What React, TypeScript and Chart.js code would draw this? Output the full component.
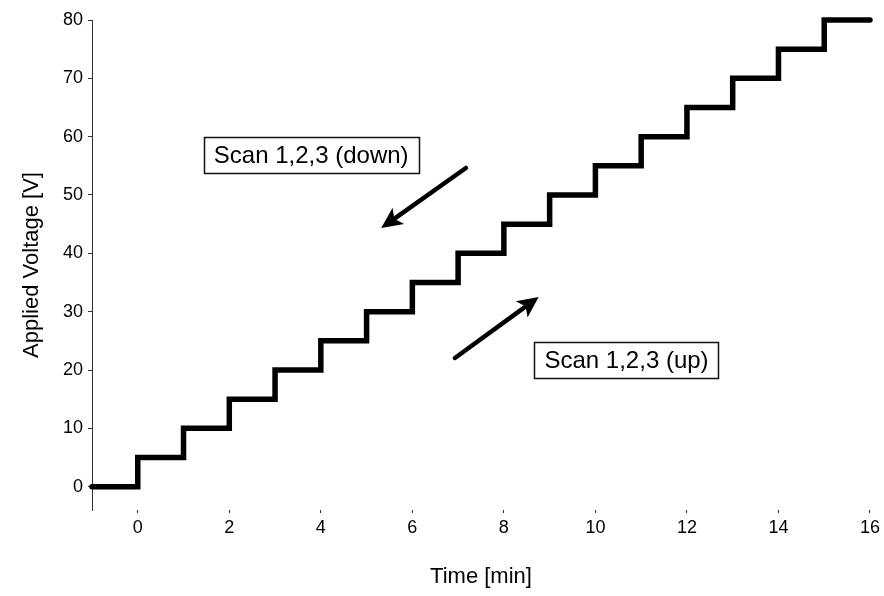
import React, { useEffect, useRef } from "react";
import { Chart, registerables } from "chart.js";

Chart.register(...registerables);

// ---- data ----
const timeMin: number[] = [-1, 0, 1, 2, 3, 4, 5, 6, 7, 8, 9, 10, 11, 12, 13, 14, 15, 16];
const appliedVoltage: number[] = [0, 5, 10, 15, 20, 25, 30, 35, 40, 45, 50, 55, 60, 65, 70, 75, 80, 80];
const xTickValues: number[] = [0, 2, 4, 6, 8, 10, 12, 14, 16];
const yTickValues: number[] = [0, 10, 20, 30, 40, 50, 60, 70, 80];

const labelTexts: string[] = ["Scan 1,2,3 (down)", "Scan 1,2,3 (up)"];

// annotation placement (data coordinates)
const labelAnchors = [
  { x: 3.79, y: 56.86 },
  { x: 10.68, y: 21.71 },
];
const arrowDefs = [
  { x0: 7.17, y0: 54.63, x1: 5.32, y1: 44.34 },
  { x0: 6.93, y0: 22.06, x1: 8.76, y1: 32.52 },
];

const FONT = '"Liberation Sans", Arial, Helvetica, sans-serif';

const annotationPlugin = {
  id: "scanAnnotations",
  afterDatasetsDraw(chart: any) {
    const { ctx, scales } = chart;
    const xs = scales.x;
    const ys = scales.y;
    ctx.save();
    // arrows
    arrowDefs.forEach((a) => {
      const px0 = xs.getPixelForValue(a.x0);
      const py0 = ys.getPixelForValue(a.y0);
      const px1 = xs.getPixelForValue(a.x1);
      const py1 = ys.getPixelForValue(a.y1);
      const ang = Math.atan2(py1 - py0, px1 - px0);
      const headLen = 21;
      const headHalf = 10;
      const bx = px1 - headLen * Math.cos(ang);
      const by = py1 - headLen * Math.sin(ang);
      ctx.strokeStyle = "#000";
      ctx.lineWidth = 4.5;
      ctx.lineCap = "round";
      ctx.beginPath();
      ctx.moveTo(px0, py0);
      ctx.lineTo(bx + 3 * Math.cos(ang), by + 3 * Math.sin(ang));
      ctx.stroke();
      ctx.fillStyle = "#000";
      ctx.beginPath();
      ctx.moveTo(px1, py1);
      ctx.lineTo(bx + headHalf * Math.sin(ang), by - headHalf * Math.cos(ang));
      ctx.lineTo(bx + 5 * Math.cos(ang), by + 5 * Math.sin(ang));
      ctx.lineTo(bx - headHalf * Math.sin(ang), by + headHalf * Math.cos(ang));
      ctx.closePath();
      ctx.fill();
    });
    // labels
    ctx.font = `24px ${FONT}`;
    ctx.textAlign = "center";
    ctx.textBaseline = "middle";
    labelTexts.forEach((t, i) => {
      const cx = xs.getPixelForValue(labelAnchors[i].x);
      const cy = ys.getPixelForValue(labelAnchors[i].y);
      const w = ctx.measureText(t).width + 20;
      const h = 36;
      ctx.fillStyle = "#fff";
      ctx.fillRect(cx - w / 2, cy - h / 2, w, h);
      ctx.strokeStyle = "#111";
      ctx.lineWidth = 1.5;
      ctx.strokeRect(Math.round(cx - w / 2) + 0.5, Math.round(cy - h / 2) + 0.5, Math.round(w), h);
      ctx.fillStyle = "#000";
      ctx.fillText(t, cx, cy + 1);
    });
    ctx.restore();
  },
};

export default function App() {
  const canvasRef = useRef<HTMLCanvasElement | null>(null);

  useEffect(() => {
    if (!canvasRef.current) return;
    const points = timeMin.map((t, i) => ({ x: t, y: appliedVoltage[i] }));
    const chart = new Chart(canvasRef.current, {
      type: "line",
      data: {
        datasets: [
          {
            data: points,
            stepped: true,
            borderColor: "#000",
            borderWidth: 5.5,
            borderCapStyle: "round",
            borderJoinStyle: "miter",
            pointRadius: 0,
            fill: false,
            clip: false as any,
          } as any,
        ],
      },
      options: {
        animation: false,
        responsive: false,
        devicePixelRatio: 1,
        layout: { padding: { left: 0, right: 12, top: 20, bottom: 0 } },
        plugins: {
          legend: { display: false },
          tooltip: { enabled: false },
        },
        scales: {
          x: {
            type: "linear",
            min: -1,
            max: 16,
            position: "bottom",
            afterBuildTicks: (s: any) => {
              s.ticks = xTickValues.map((v) => ({ value: v }));
            },
            afterFit: (s: any) => {
              s.height = 86;
            },
            ticks: {
              font: { family: FONT, size: 18 },
              color: "#000",
              padding: 4,
              maxRotation: 0,
            },
            grid: {
              display: true,
              drawOnChartArea: false,
              drawTicks: true,
              tickLength: 3,
              color: "#333",
              lineWidth: 1,
            },
            border: { display: false },
            title: {
              display: true,
              text: "Time [min]",
              font: { family: FONT, size: 22 },
              color: "#000",
              padding: { top: 0, bottom: 6 },
            },
          },
          y: {
            type: "linear",
            min: -4,
            max: 80,
            afterBuildTicks: (s: any) => {
              s.ticks = yTickValues.map((v) => ({ value: v }));
            },
            afterFit: (s: any) => {
              s.width = 92;
            },
            ticks: {
              font: { family: FONT, size: 18 },
              color: "#000",
              padding: 5,
            },
            grid: {
              display: true,
              drawOnChartArea: false,
              drawTicks: true,
              tickLength: 4,
              color: "#333",
              lineWidth: 1,
            },
            border: { display: true, color: "#333", width: 1 },
            title: {
              display: true,
              text: "Applied Voltage [V]",
              font: { family: FONT, size: 22 },
              color: "#000",
              padding: { top: 19, bottom: 0 },
            },
          },
        },
      },
      plugins: [annotationPlugin],
    });
    return () => chart.destroy();
  }, []);

  return (
    <div style={{ position: "fixed", left: 0, top: 0, width: 884, height: 596, background: "#fff" }}>
      <canvas ref={canvasRef} width={884} height={596} style={{ width: 884, height: 596 }} />
    </div>
  );
}
